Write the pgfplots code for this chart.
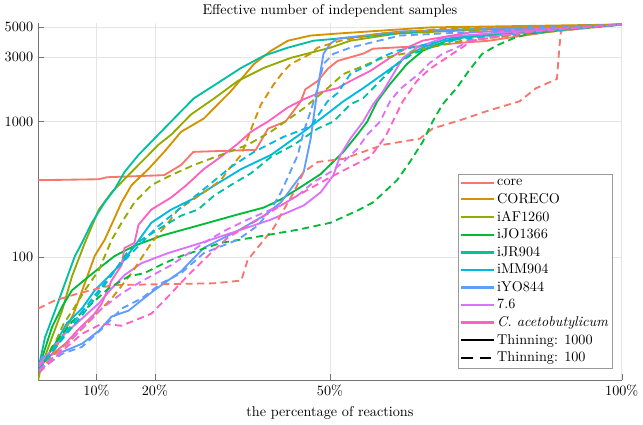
\documentclass[border=0pt]{standalone}
\usepackage{pgfplots}
\pgfplotsset{compat=1.18}
\definecolor{ccore}{HTML}{F8766D}
\definecolor{ccoreco}{HTML}{D39200}
\definecolor{caf}{HTML}{93AA00}
\definecolor{cjo}{HTML}{00BA38}
\definecolor{cjr}{HTML}{00C19F}
\definecolor{cmm}{HTML}{00B9E3}
\definecolor{cyo}{HTML}{619CFF}
\definecolor{csix}{HTML}{DB72FB}
\definecolor{cca}{HTML}{FF61C3}
\begin{document}
\begin{tikzpicture}
\begin{axis}[
 scale only axis, width=411pt, height=252pt,
 xmin=0, xmax=100, ymode=log, ymin=12.3, ymax=5380,
 axis x line*=bottom, axis y line*=left,
 xtick={10,20,50,100}, xticklabels={10\%,20\%,50\%,100\%},
 ytick={100,1000,3000,5000}, yticklabels={100,1000,3000,5000},
 minor ytick={},
 grid=major, major grid style={draw=black!10},
 axis line style={draw=black!55}, tick style={draw=black!55},
 title={Effective number of independent samples},
 title style={yshift=-6pt},
 xlabel={the percentage of reactions},
 legend style={at={(0.985,0.033)}, anchor=south east, draw=black!40, cells={anchor=west}, row sep=0.75pt, font=\fontsize{10}{12}\selectfont, inner sep=1.5pt, nodes={inner sep=1.6pt}},
 legend image code/.code={\draw[#1,line width=1.6pt] (0pt,0pt) -- (23pt,0pt);},
 every axis plot/.append style={line width=1.3pt, line join=round},
 dsh/.style={dash pattern=on 5pt off 3.2pt},
]
% solid (thinning 1000)
\addplot[ccore] coordinates {(0,369) (10.4,375) (11.8,388) (21.6,402) (24.5,478) (26.6,597) (37.3,618) (39.4,887) (42.4,1000) (45,1410) (45.8,1730) (47.9,1990) (49.6,2440) (51.3,2800) (55.7,3170) (57.4,3450) (67.1,3630) (72.7,3820) (77.3,3950) (80.7,4160) (89.3,4700) (100,5200)};
\addlegendentry{core}
\addplot[ccoreco] coordinates {(0.2,14.9) (0.7,16.2) (2.4,19.3) (4.1,25.8) (6.1,38.3) (8,64) (9.7,102) (11.4,134) (14.3,253) (16,339) (18.9,446) (21.6,597) (24.5,840) (28.4,1053) (33,1670) (37,2660) (39.9,3330) (42.8,3950) (46.7,4310) (51.3,4460) (67.1,4950) (100,5200)};
\addlegendentry{CORECO}
\addplot[caf] coordinates {(0,12.3) (0.4,14.9) (2.4,25.7) (4.1,40.2) (5.8,72) (8,127) (10.4,224) (12.6,300) (14.8,376) (17.7,503) (20.6,673) (22.8,800) (26.2,1128) (30.2,1485) (34.2,1990) (38.7,2490) (43.3,2950) (46.7,3220) (50.1,3510) (53.5,3950) (61.5,4460) (72.7,4700) (100,5200)};
\addlegendentry{iAF1260}
\addplot[cjo] coordinates {(0.2,14.9) (0.7,18.2) (2.4,30.5) (4.1,43) (5.8,56.8) (8.7,72) (10.9,85.7) (13.1,101.6) (16.5,121) (21.1,143.5) (27.9,173) (34.2,206) (38.7,232) (41.6,266) (45.5,339) (48.4,409) (52.3,597) (54.7,800) (56.4,1000) (58.1,1410) (60.3,1889) (63.2,2660) (65.9,3330) (70,3950) (73.9,4310) (100,5200)};
\addlegendentry{iJO1366}
\addplot[cjr] coordinates {(0.2,16.2) (1.2,25.7) (2.9,40.2) (4.6,64) (6.3,101.6) (7.5,127) (9.2,179) (11.4,253) (13.1,316) (14.8,424) (17.2,567) (19.4,709) (21.6,887) (24.5,1190) (26.7,1485) (31.3,1990) (34.8,2490) (38.7,3060) (42.8,3510) (47.2,3950) (51.3,4090) (67.1,4700) (100,5200)};
\addlegendentry{iJR904}
\addplot[cmm] coordinates {(0.2,15.6) (2.4,20.9) (4.9,32.3) (7.5,41.6) (9.7,56.8) (12.1,72) (14.3,90) (16.9,127) (19.4,179) (22.8,224) (26.7,271) (30.8,350) (34.8,446) (39.9,567) (45.5,842) (50.1,1190) (52.3,1410) (55.7,1763) (59.1,2240) (61.5,2660) (63.7,3160) (65.9,3510) (70,4090) (79,4540) (100,5200)};
\addlegendentry{iMM904}
\addplot[cyo] coordinates {(0.2,15.4) (0.7,18.2) (4.6,20.3) (7.5,22.9) (10.4,28.5) (12.6,36.4) (15.5,40.2) (17.7,47.9) (19.9,56.8) (22.3,67.3) (24.5,78.5) (28.4,117) (34.2,156) (38.7,202) (41.6,253) (43.8,339) (45.5,424) (46.7,747) (47.9,1763) (48.9,3170) (50.1,3760) (51.3,4090) (62,4620) (100,5200)};
\addlegendentry{iYO844}
\addplot[csix] coordinates {(0.2,16.2) (2.4,20.9) (4.6,27.2) (7.5,35.1) (10.4,45.5) (12.6,58.7) (14.8,73.5) (17.7,90) (22.3,107) (27.9,127) (34.2,156) (39.9,189) (45.5,240) (48.4,300) (50.6,402) (51.8,567) (53.5,747) (55.7,1000) (57.4,1339) (59.1,1670) (61.5,2490) (62.5,2950) (64.9,3510) (70,4230) (100,5200)};
\addlegendentry{7.6}
\addplot[cca] coordinates {(0.2,15.6) (2.4,19.2) (4.6,22.8) (7,29.5) (9.7,38.2) (10.9,45.4) (12.6,67.3) (14.3,87.1) (14.8,116.7) (16.5,127) (17.2,173) (19.4,224) (22.8,275) (25.4,339) (28.4,446) (31.3,548) (34.2,685) (36.5,842) (39.4,1000) (42.8,1272) (45.5,1459) (48.4,1644) (51.3,1763) (53.5,1990) (56.9,2362) (60.3,2951) (63.2,3506) (65.9,3956) (73.9,4540) (100,5200)};
\addlegendentry{\textit{C. acetobutylicum}}
% dashed (thinning 100)
\addplot[ccore,dsh,forget plot] coordinates {(0,41.6) (2.9,47.9) (7,54) (12.6,62) (30.2,64) (34.8,67) (35.9,95) (38.7,134) (40.4,165) (42.1,224) (43.8,300) (45.5,424) (47.9,503) (52.3,530) (59.1,673) (65.4,747) (67.6,887) (72.7,1035) (76.8,1190) (82.5,1410) (85.3,1760) (88.9,2060) (89.3,3450) (89.6,4700) (100,5200)};
\addplot[ccoreco,dsh,forget plot] coordinates {(0.2,14.1) (2.4,18.6) (5.8,24.9) (9.2,35.1) (12.6,49.4) (16,76) (19.4,127) (22,173) (24,224) (28.4,300) (31.3,369) (32.7,446) (34.8,567) (37,1000) (38.2,1339) (40.4,1889) (42.1,2360) (43.3,2660) (46.7,3160) (47.9,3510) (51.8,3950) (58.6,4460) (70.5,4860) (100,5200)};
\addplot[caf,dsh,forget plot] coordinates {(0.2,14.4) (2.4,20.9) (4.4,32.3) (6.3,43) (8,56.8) (10.4,80) (12.6,134) (14.3,179) (16.5,253) (19.4,339) (22.8,402) (26.7,478) (31.3,567) (35.9,673) (39.9,842) (45.5,1250) (49.6,1763) (52.3,2240) (55.7,2570) (58.6,2900) (62.5,3160) (67.1,3510) (72.7,3950) (100,5200)};
\addplot[cjo,dsh,forget plot] coordinates {(0.2,14.1) (2.4,21.7) (5.8,33.3) (9.2,45.5) (12.1,58.7) (15.5,72) (18.2,76) (21.6,90) (24.5,101.6) (31.3,127) (36.5,138.6) (44.5,159) (50.1,179) (54.7,220) (57.4,253) (61.5,369) (63.7,503) (65.9,709) (67.6,1000) (69.3,1339) (71.7,1763) (73.9,2400) (76.1,3160) (78.5,3630) (81.3,4090) (84.2,4460) (88.8,4700) (100,5200)};
\addplot[cjr,dsh,forget plot] coordinates {(0.2,14.6) (2.4,19.9) (4.9,27.2) (7.5,36.9) (10,51.2) (12.6,73.5) (15.2,107) (17.7,134) (21.1,165) (24.5,202) (27.4,224) (30.2,285) (33,339) (36.5,416) (39.9,548) (43.8,673) (47.9,887) (50.6,1000) (53.5,1339) (55.7,1485) (58.6,1990) (61.5,2660) (64.2,3160) (67.1,3510) (72.7,4160) (100,5200)};
\addplot[cmm,dsh,forget plot] coordinates {(0.2,14.6) (3.2,22.9) (6.6,35.1) (10,54) (13.5,83) (16.9,117) (20.3,165) (24.5,232) (28.8,327) (33,461) (37,597) (42.1,773) (46.7,918) (49.6,1410) (51.3,1620) (53.5,2240) (56.9,2660) (58.6,2950) (61.5,3330) (67.1,3760) (72.7,4090) (100,5200)};
\addplot[cyo,dsh,forget plot] coordinates {(0.2,14.6) (4.1,19.3) (7.5,21.7) (10.9,29.4) (14.3,41.6) (17.7,49.4) (21.1,64) (24.5,76) (28.4,107) (34.2,134) (37.6,170) (39.9,224) (41.6,300) (42.8,389) (44.5,567) (45.5,842) (46.7,1190) (47.9,1763) (48.9,2660) (50.6,3160) (53.5,3510) (62,4310) (100,5200)};
\addplot[csix,dsh,forget plot] coordinates {(0.2,14.6) (4.1,20.9) (7.5,29.5) (10.9,41.6) (14.3,53.8) (17.7,66.2) (22.8,87.1) (28.4,127) (31.9,156) (35.9,189) (38.7,213) (41.6,240) (44.5,285) (47.2,357) (50.1,424) (52.3,503) (54.7,629) (56.4,800) (58.6,1000) (60.3,1410) (62,1733) (65.4,2280) (67.1,2708) (69.3,3162) (71.7,3506) (73.9,3956) (82.5,4540) (100,5200)};
\addplot[cca,dsh,forget plot] coordinates {(0.2,14.1) (4.1,20.2) (7.5,27.1) (10.9,32.2) (14.3,31.1) (19.4,38.2) (22.3,51.2) (25.7,73.4) (29.6,107) (32.5,139) (38.2,195) (41.6,240) (44.5,285) (50.1,389) (53.5,462) (56.9,548) (59.5,773) (61.2,1090) (62.5,1410) (64.9,1990) (67.1,2444) (70.5,3055) (74.4,3956) (85.9,4700) (100,5200)};
\addlegendimage{black}
\addlegendentry{Thinning: 1000}
\addlegendimage{black,dash pattern=on 8pt off 5pt}
\addlegendentry{Thinning: 100}
\end{axis}
\end{tikzpicture}
\end{document}
